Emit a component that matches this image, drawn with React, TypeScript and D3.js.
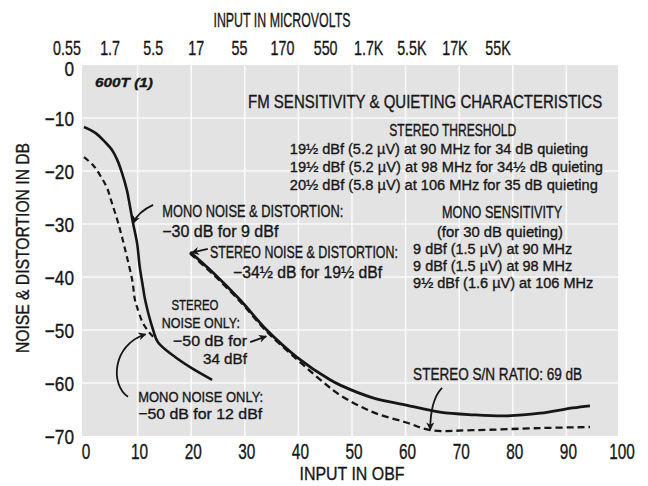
import React, { useLayoutEffect, useRef, useState } from 'react';
import * as d3 from 'd3';

// tick labels
const dbTicks = [0, -10, -20, -30, -40, -50, -60, -70];
const microvolts = ['0.55', '1.7', '5.5', '17', '55', '170', '550', '1.7K', '5.5K', '17K', '55K'];

// mono noise & distortion (solid)
const monoNdX = [0, 2.1, 3.9, 5.2, 6.2, 7.1, 8, 8.6, 9.1, 9.9, 10.4, 11, 11.4, 12.9, 13.8, 17, 20.1, 23.9];
const monoNdY = [-11.7, -12.8, -14.5, -16, -17.9, -20.4, -23.6, -26.8, -29.6, -33.6, -38.1, -41.9, -44.3, -50, -52.3, -55.1, -57.2, -59.4];

// mono noise only (dashed)
const monoNoiseX = [0, 1.7, 3, 4.3, 5.2, 6.2, 7.1, 8, 9, 9.5, 9.9, 11, 12.3, 13.6];
const monoNoiseY = [-17.4, -18.9, -20.8, -23.2, -26, -29.2, -32.5, -36.2, -40.6, -44.3, -45.7, -48.7, -50.6, -51.9];

// stereo noise & distortion (solid)
const stereoNdX = [19.8, 24.1, 29.1, 34.1, 39.7, 45.9, 47.8, 53.9, 60.3, 66.4, 72.6, 78.9, 85.1, 91.2, 94.4];
const stereoNdY = [-35.3, -39.2, -44.3, -50, -55.1, -59.4, -60.4, -62.8, -64.2, -65.5, -66, -66.2, -65.7, -64.7, -64.3];

// stereo noise only (dashed)
const stereoNoiseX = [19.8, 24.1, 29.1, 34.1, 39.7, 44, 47.8, 53.9, 60.3, 64.6, 72.6, 85.1, 94.4];
const stereoNoiseY = [-35.6, -39.5, -44.6, -50.3, -55.5, -59.3, -62.3, -65.5, -67.5, -68.9, -68.9, -68.5, -68.3];

const W = 648;
const H = 486;
const FONT = "'Liberation Sans', Arial, sans-serif";
const INK = '#161616';

const x = d3.scaleLinear().domain([0, 100]).range([84, 620]);
const y = d3.scaleLinear().domain([-70, 0]).range([436, 65]);
const xTop = d3.scalePoint<string>().domain(microvolts).range([67, 498]);

const zip = (xs: number[], ys: number[]) => xs.map((v, i) => [v, ys[i]] as [number, number]);

const line = d3.line<[number, number]>()
    .x(d => x(d[0]))
    .y(d => y(d[1]))
    .curve(d3.curveCatmullRom.alpha(0.5));

// text squeezed horizontally to a given width (condensed type of the original)
const Label = ({ px, py, w, size = 16, anchor = 'start', children, weight = 'normal', italic = false }: any) => {
    const ref = useRef<SVGTextElement>(null);
    const [sx, setSx] = useState(0.7);
    useLayoutEffect(() => {
        if (!ref.current) return;
        const len = ref.current.getComputedTextLength();
        if (len > 0) setSx(w / len);
    }, [w, children]);
    return (
        <g transform={`translate(${px},${py}) scale(${sx},1)`}>
            <text
                ref={ref}
                fontSize={size}
                fontWeight={weight}
                fontStyle={italic ? 'italic' : 'normal'}
                textAnchor={anchor}
                dominantBaseline="central"
                fill={INK}
            >
                {children}
            </text>
        </g>
    );
};

const App: React.FC = () => {
    const gridX = x.ticks(10).filter(v => v > 0 && v < 100);
    const gridY = dbTicks.filter(v => v < 0 && v > -70);

    const arrow = (d: string) => (
        <path d={d} fill="none" stroke={INK} strokeWidth={1.8} markerEnd="url(#head)" />
    );

    return (
        <svg width={W} height={H} style={{ position: 'absolute', left: 0, top: 0, background: '#fff' }} fontFamily={FONT}>
            <style>{`text { stroke: ${INK}; stroke-width: 0.35px; }`}</style>
            <defs>
                <marker id="head" viewBox="0 0 10 10" refX="9" refY="5" markerWidth="9" markerHeight="8" markerUnits="userSpaceOnUse" orient="auto">
                    <path d="M0,0 L10,5 L0,10 L3,5 z" fill={INK} />
                </marker>
            </defs>

            {/* plot area */}
            <rect x={x(0) - 2} y={y(0)} width={x(100) - x(0)} height={y(-70) - y(0)} fill="#e3e3e3" />
            {gridX.map(v => (
                <line key={'gx' + v} x1={x(v)} x2={x(v)} y1={y(0)} y2={y(-70)} stroke="#fafafa" strokeWidth={1.6} />
            ))}
            {gridY.map(v => (
                <line key={'gy' + v} x1={x(0) - 2} x2={x(100) - 2} y1={y(v)} y2={y(v)} stroke="#fafafa" strokeWidth={1.6} />
            ))}

            {/* axes labels */}
            {dbTicks.map(v => (
                <text key={'yt' + v} transform={`translate(74,${y(v) + (v === 0 ? 4 : 1)}) scale(0.82,1)`} fontSize={21}
                    textAnchor="end" dominantBaseline="central" fill={INK}>
                    {v === 0 ? '0' : '\u2212' + Math.abs(v)}
                </text>
            ))}
            {x.ticks(10).map(v => (
                <text key={'xt' + v} transform={`translate(${x(v) + 2},451) scale(0.7,1)`} fontSize={22}
                    textAnchor="middle" dominantBaseline="central" fill={INK}>
                    {v}
                </text>
            ))}
            {microvolts.map(m => (
                <text key={'mt' + m} transform={`translate(${xTop(m)},48) scale(0.68,1)`} fontSize={21}
                    textAnchor="middle" dominantBaseline="central" fill={INK}>
                    {m}
                </text>
            ))}
            <Label px={282} py={20} w={137} size={20} anchor="middle">INPUT IN MICROVOLTS</Label>
            <Label px={352} py={474} w={105} size={19} anchor="middle">INPUT IN OBF</Label>
            <g transform="translate(22,248) rotate(-90)">
                <Label px={0} py={0} w={210} size={19} anchor="middle">NOISE &amp; DISTORTION IN DB</Label>
            </g>

            {/* curves */}
            <path d={line(zip(monoNoiseX, monoNoiseY)) || ''} fill="none" stroke={INK} strokeWidth={2.2} strokeDasharray="6 4" />
            <path d={line(zip(monoNdX, monoNdY)) || ''} fill="none" stroke={INK} strokeWidth={2.6} />
            <path d={line(zip(stereoNoiseX, stereoNoiseY)) || ''} fill="none" stroke={INK} strokeWidth={2.3} strokeDasharray="7 4" />
            <path d={line(zip(stereoNdX, stereoNdY)) || ''} fill="none" stroke={INK} strokeWidth={2.8} />

            {/* annotations */}
            <Label px={x(2.05)} py={y(-3.2)} w={58} size={13} weight="bold" italic>600T (1)</Label>
            <Label px={x(30.6)} py={y(-7)} w={354} size={18}>FM SENSITIVITY &amp; QUIETING CHARACTERISTICS</Label>

            <Label px={x(68.8)} py={y(-12.3)} w={127} size={16} anchor="middle">STEREO THRESHOLD</Label>
            <Label px={x(38.4)} py={y(-15.7)} w={298} size={15.5}>19½ dBf (5.2 µV) at 90 MHz for 34 dB quieting</Label>
            <Label px={x(38.4)} py={y(-19.1)} w={313} size={15.5}>19½ dBf (5.2 µV) at 98 MHz for 34½ dB quieting</Label>
            <Label px={x(38.4)} py={y(-22.5)} w={308} size={15.5}>20½ dBf (5.8 µV) at 106 MHz for 35 dB quieting</Label>

            <Label px={x(78)} py={y(-27.9)} w={120} size={16} anchor="middle">MONO SENSITIVITY</Label>
            <Label px={x(77.6)} py={y(-31.5)} w={126} size={15} anchor="middle">(for 30 dB quieting)</Label>
            <Label px={x(61.4)} py={y(-34.8)} w={159} size={14.5}>9 dBf (1.5 µV) at 90 MHz</Label>
            <Label px={x(61.4)} py={y(-38)} w={159} size={14.5}>9 dBf (1.5 µV) at 98 MHz</Label>
            <Label px={x(61.4)} py={y(-41.2)} w={180} size={14.5}>9½ dBf (1.6 µV) at 106 MHz</Label>

            <Label px={x(14.6)} py={y(-27.7)} w={181} size={16}>MONO NOISE &amp; DISTORTION:</Label>
            <Label px={x(14.6)} py={y(-31.5)} w={116} size={16}>{'\u2212'}30 dB for 9 dBf</Label>
            {arrow(`M${x(12.9)},${y(-26.4)} Q${x(10.1)},${y(-27.7)} ${x(9.2)},${y(-29.8)}`)}

            <Label px={x(23.5)} py={y(-35.3)} w={188} size={16}>STEREO NOISE &amp; DISTORTION:</Label>
            <Label px={x(27.8)} py={y(-39.1)} w={149} size={16}>{'\u2212'}34½ dB for 19½ dBf</Label>
            {arrow(`M${x(23.1)},${y(-34.7)} L${x(20.1)},${y(-35.4)}`)}

            <Label px={x(20.7)} py={y(-45.3)} w={47} size={15} anchor="middle">STEREO</Label>
            <Label px={x(21.8)} py={y(-48.7)} w={78} size={15} anchor="middle">NOISE ONLY:</Label>
            <Label px={x(23.5)} py={y(-52.1)} w={74} size={15} anchor="middle">{'\u2212'}50 dB for</Label>
            <Label px={x(26.3)} py={y(-55.3)} w={44} size={15} anchor="middle">34 dBf</Label>
            {arrow(`M${x(31)},${y(-52.3)} L${x(34)},${y(-51.2)}`)}

            <Label px={x(10.1)} py={y(-62.6)} w={125} size={15.5}>MONO NOISE ONLY:</Label>
            <Label px={x(10.1)} py={y(-65.7)} w={124} size={15.5}>{'\u2212'}50 dB for 12 dBf</Label>
            {arrow(`M${x(8.2)},${y(-62.6)} C${x(4.9)},${y(-60.4)} ${x(5.2)},${y(-52.8)} ${x(11.5)},${y(-50.8)}`)}

            <Label px={x(61.4)} py={y(-58.5)} w={169} size={16}>STEREO S/N RATIO: 69 dB</Label>
            {arrow(`M${x(66.8)},${y(-60.9)} Q${x(64.6)},${y(-63.2)} ${x(64.6)},${y(-68.8)}`)}
        </svg>
    );
};

export default App;
